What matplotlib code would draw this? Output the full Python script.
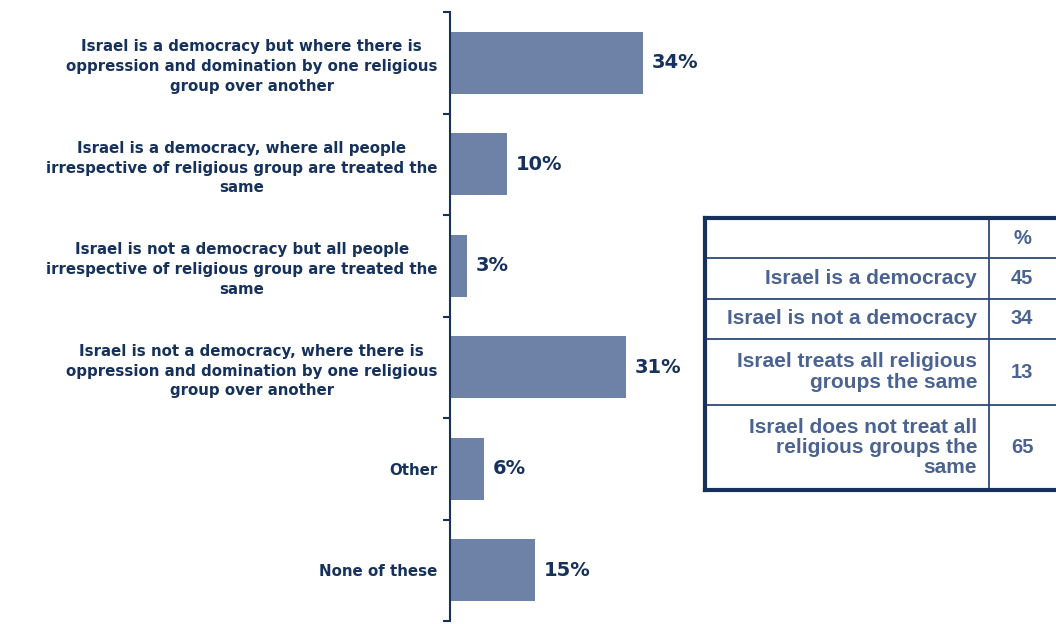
import matplotlib
matplotlib.use("Agg")
import matplotlib.pyplot as plt
from matplotlib.lines import Line2D

categories = [
    "Israel is a democracy but where there is\noppression and domination by one religious\ngroup over another",
    "Israel is a democracy, where all people\nirrespective of religious group are treated the\nsame",
    "Israel is not a democracy but all people\nirrespective of religious group are treated the\nsame",
    "Israel is not a democracy, where there is\noppression and domination by one religious\ngroup over another",
    "Other",
    "None of these",
]
values = [34, 10, 3, 31, 6, 15]

table_labels = [
    "Israel is a democracy",
    "Israel is not a democracy",
    "Israel treats all religious\ngroups the same",
    "Israel does not treat all\nreligious groups the\nsame",
]
table_values = [45, 34, 13, 65]
table_header = "%"

BAR = "#6E82A8"
NAVY = "#16325C"
TXT = "#4A6391"

W, H = 1056, 624
fig = plt.figure(figsize=(W / 100, H / 100), dpi=100)

ax = fig.add_axes([450 / W, 3 / H, 250 / W, 609 / H])
ypos = list(range(len(categories)))
ax.barh(ypos, values, height=0.61, color=BAR, zorder=2)
ax.set_ylim(len(categories) - 0.5, -0.5)
ax.set_xlim(0, 44)
for s in ["top", "right", "bottom"]:
    ax.spines[s].set_visible(False)
ax.spines["left"].set_color(NAVY)
ax.spines["left"].set_linewidth(1.5)
ax.set_xticks([])
ax.set_yticks(ypos)
ax.set_yticklabels(categories, fontsize=10.8, fontweight="bold", color=NAVY,
                   family="DejaVu Sans", linespacing=1.4)
for lab in ax.get_yticklabels():
    lab.set_multialignment("center")
ax.tick_params(axis="y", which="major", length=0, pad=9)
ax.set_yticks([i - 0.5 for i in range(len(categories) + 1)], minor=True)
ax.tick_params(axis="y", which="minor", length=5, width=1.5, color=NAVY)

for y, v in zip(ypos, values):
    ax.text(v + 1.5, y, f"{v}%", va="center", ha="left", fontsize=14,
            fontweight="bold", color=NAVY, family="DejaVu Sans")

# Table drawn in pixel coordinates of the figure
def fx(x):
    return x / W

def fy(y):
    return 1 - y / H

left, right, col = 705, 1062, 989
rows = [218, 258, 299, 339, 405, 490]
for y in rows[1:-1]:
    fig.add_artist(Line2D([fx(left), fx(right)], [fy(y), fy(y)], color="#2E4A7A", lw=1.3))
fig.add_artist(Line2D([fx(col), fx(col)], [fy(rows[0]), fy(rows[-1])], color="#2E4A7A", lw=1.3))
fig.add_artist(Line2D([fx(left), fx(right), ], [fy(rows[0]), fy(rows[0])], color=NAVY, lw=3))
fig.add_artist(Line2D([fx(left), fx(right)], [fy(rows[-1]), fy(rows[-1])], color=NAVY, lw=3))
fig.add_artist(Line2D([fx(left), fx(left)], [fy(rows[0]), fy(rows[-1])], color=NAVY, lw=3))

fig.text(fx(1022), fy((rows[0] + rows[1]) / 2), table_header, ha="center", va="center",
         fontsize=14.5, fontweight="bold", color=TXT, family="Liberation Sans")
for i, (lab, val) in enumerate(zip(table_labels, table_values)):
    yc = fy((rows[i + 1] + rows[i + 2]) / 2)
    fig.text(fx(977), yc, lab, ha="right", va="center", multialignment="right",
             fontsize=15, fontweight="bold", color=TXT, family="Liberation Sans",
             linespacing=1.08)
    fig.text(fx(1022), yc, str(val), ha="center", va="center",
             fontsize=14.5, fontweight="bold", color=TXT, family="Liberation Sans")

fig.savefig("out.png", dpi=100)
